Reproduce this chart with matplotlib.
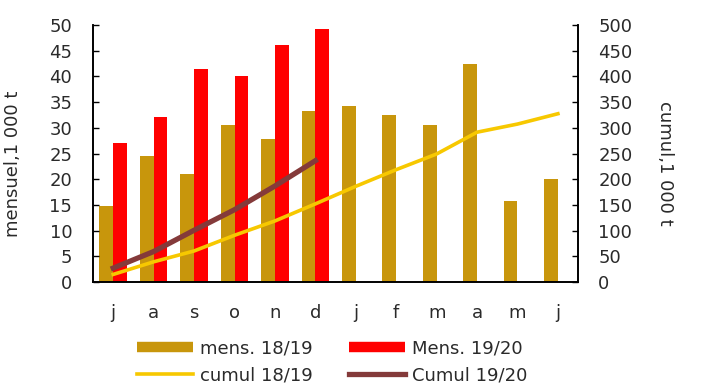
import matplotlib
matplotlib.use("Agg")
import matplotlib.pyplot as plt
from matplotlib.lines import Line2D
import numpy as np

plt.rcParams['font.family'] = ['DejaVu Sans']

months = ["j", "a", "s", "o", "n", "d", "j", "f", "m", "a", "m", "j"]
mens_1819 = [14.8, 24.5, 21.1, 30.5, 27.9, 33.2, 34.2, 32.4, 30.5, 42.4, 15.8, 20.1]
mens_1920 = [27.1, 32.2, 41.4, 40.0, 46.1, 49.2]
cumul_1819 = [14.8, 39.3, 60.4, 90.9, 118.8, 152.0, 186.2, 218.6, 249.1, 291.5, 307.3, 327.4]
cumul_1920 = [27.1, 59.3, 100.7, 140.7, 186.8, 236.0]

c_gold = "#C8960C"
c_red = "#FF0000"
c_yellow = "#F7C800"
c_brown = "#843A3A"
c_text = "#2a2a2a"
fs = 13

fig = plt.figure(figsize=(7.01, 3.85), dpi=100)
ax = fig.add_axes([0.1327, 0.2675, 0.692, 0.6675])
ax2 = ax.twinx()

x = np.arange(len(months))
w = 0.34
ax.bar(x - w / 2, mens_1819, width=w, color=c_gold, align="center")
ax.bar(x[:len(mens_1920)] + w / 2, mens_1920, width=w, color=c_red, align="center")

ax2.plot(x, cumul_1819, color=c_yellow, lw=2.6)
ax2.plot(x[:len(cumul_1920)], cumul_1920, color=c_brown, lw=3.8)

ax.set_xlim(-0.5, len(months) - 0.5)
ax.set_ylim(0, 50)
ax2.set_ylim(0, 500)
ax.set_yticks(range(0, 51, 5))
ax2.set_yticks(range(0, 501, 50))
ax.set_xticks(x)
ax.set_xticklabels(months)

for a in (ax, ax2):
    a.spines['top'].set_visible(False)
    for s in a.spines.values():
        s.set_linewidth(1.2)
ax.tick_params(axis='x', length=0, labelsize=fs, pad=16, labelcolor=c_text)
ax.tick_params(axis='y', direction='in', length=4, width=1, labelsize=fs,
               pad=15, labelcolor=c_text, color='black')
ax2.tick_params(axis='y', direction='in', length=4, width=1, labelsize=fs,
                pad=14.5, labelcolor=c_text, color='black')

ax.set_ylabel("mensuel,1 000 t", fontsize=fs, color=c_text)
ax.yaxis.set_label_coords(-0.146, 0.46)
ax2.set_ylabel("cumul,1 000 t", fontsize=fs, rotation=-90, color=c_text, va='center')
ax2.yaxis.set_label_coords(1.179, 0.46)

handles = [
    Line2D([], [], color=c_gold, lw=7.5, solid_capstyle='butt'),
    Line2D([], [], color=c_yellow, lw=2.6),
    Line2D([], [], color=c_red, lw=7.5, solid_capstyle='butt'),
    Line2D([], [], color=c_brown, lw=3.8),
]
labels = ["mens. 18/19", "cumul 18/19", "Mens. 19/20", "Cumul 19/20"]
fig.legend(handles, labels, ncol=2, loc="center", bbox_to_anchor=(0.474, 0.06),
           frameon=False, fontsize=fs, handlelength=3.1, handletextpad=0.4,
           columnspacing=2.0, labelspacing=0.5, borderpad=0.2,
           labelcolor=c_text)

fig.savefig("out.png", dpi=100)
